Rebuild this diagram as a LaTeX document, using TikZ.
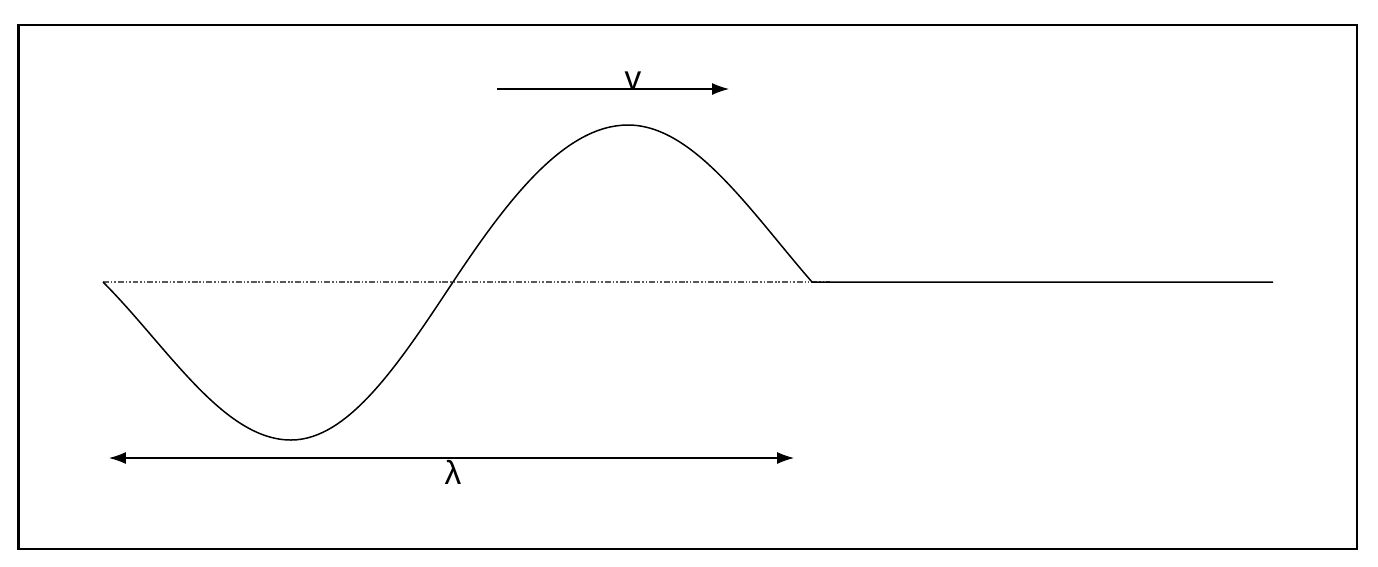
\documentclass[tikz,border=0pt]{standalone}
\usepackage{fontspec}
\setmainfont{Liberation Sans}
\usetikzlibrary{arrows.meta}
\tikzset{>={Latex[length=3.4mm,width=2.4mm]}}
\tikzset{
  wave/.style={line width=0.85pt},
  restline/.style={gray!70!black, line width=0.6pt,
    dash pattern=on 3.4pt off 1.1pt on 0.85pt off 1.1pt on 0.85pt off 1.1pt},
  lbl/.style={font=\fontsize{19}{23}\selectfont, inner sep=0pt}
}

\begin{document}
\begin{tikzpicture}[x=0.02cm,y=0.02cm]
    \useasboundingbox (0,0) rectangle (1378,-566);
    % frame
    \draw[line width=1.2pt] (18.5,-25) rectangle (1357,-549);
    % points of the string
    \coordinate (S) at (103,-282);
    \coordinate (T) at (291,-440);
    \coordinate (M) at (453,-282);
    \coordinate (P) at (628,-125);
    \coordinate (E) at (812,-282);
    \coordinate (F) at (1273,-282);
    \coordinate (R) at (830,-282);
    % rest position
    \draw[restline] (S) -- (R);
    % the pulse
    \draw[wave] (S) .. controls (167,-346) and (223,-440) .. (T)
        .. controls (349,-440) and (400,-362) .. (M)
        .. controls (508,-199) and (565,-125) .. (P)
        .. controls (694,-125) and (751,-212) .. (E) -- (F);
    % speed
    \coordinate (vA) at (497,-89);
    \coordinate (vB) at (729,-89);
    \draw[->, line width=0.6pt] (vA) -- (vB);
    \node[lbl, anchor=base] (v) at (633,-89) {v};
    % wavelength
    \coordinate (lA) at (109,-458);
    \coordinate (lB) at (794,-458);
    \draw[<->, line width=0.6pt] (lA) -- (lB);
    \node[lbl, anchor=base] (lambda) at (453,-484) {λ};
\end{tikzpicture}
\end{document}
